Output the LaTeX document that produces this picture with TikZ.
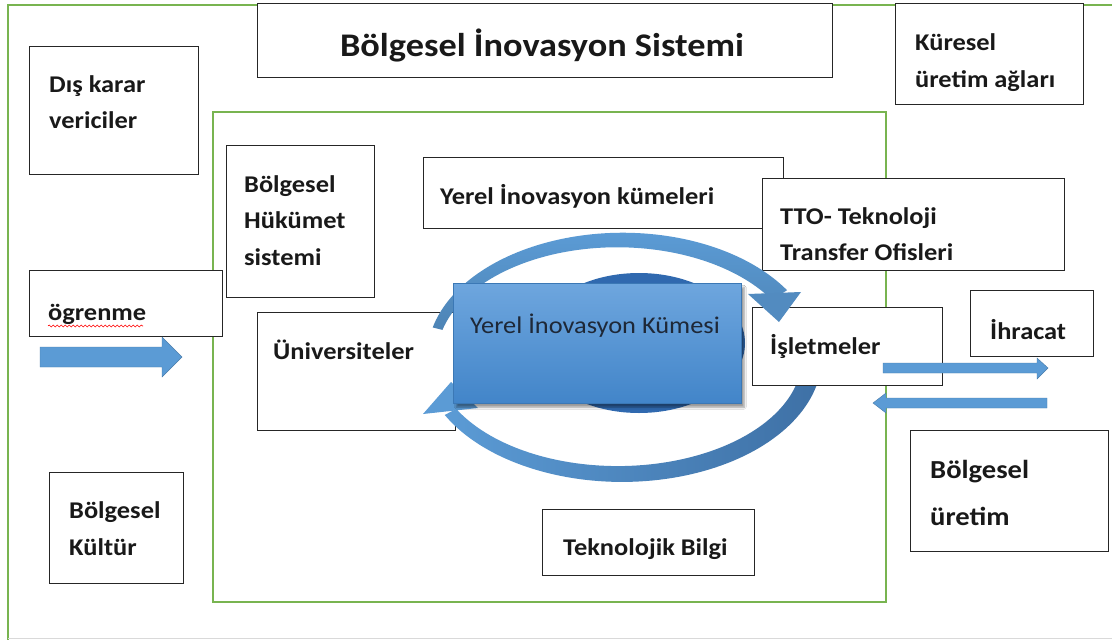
\documentclass[tikz,border=0pt]{standalone}
\usepackage{fontspec}
\setmainfont{Carlito}[FakeStretch=1.1]
\usetikzlibrary{shadows,shadows.blur,shadings,decorations.pathmorphing}
\definecolor{grn}{RGB}{120,180,80}
\definecolor{abl}{RGB}{91,155,213}
\definecolor{abd}{RGB}{62,112,165}
\definecolor{boxtop}{RGB}{110,166,222}
\definecolor{boxbot}{RGB}{66,133,201}
\definecolor{ellc}{RGB}{48,105,175}
\definecolor{txt}{RGB}{25,25,25}
\begin{document}
\begin{tikzpicture}[x=1pt,y=-1pt,
  bx/.style={draw=black!85, line width=1.3pt, fill=white, inner sep=0pt, anchor=north west},
  tx/.style={anchor=base west, inner sep=0pt, text=txt, font=\bfseries\fontsize{24}{28}\selectfont},
  txbig/.style={tx, font=\bfseries\fontsize{26}{30}\selectfont},
  blockarrow/.style={fill=abl, draw=abl!80!black, line width=0.4pt}]
\useasboundingbox (0,0) rectangle (1112,640);
\fill[white] (0,0) rectangle (1112,640);
% outer frame
\draw[grn, line width=1.3pt] (8,640) -- (8,5) -- (1112,5);
\draw[black!15, line width=0.8pt] (8,638) -- (1112,638);
% inner frame
\draw[grn, line width=1.3pt] (213,112) rectangle (886,602);
% boxes
\node[bx, minimum width=575, minimum height=74] (title) at (257,3) {};
\node[bx, minimum width=169, minimum height=128] (dis) at (29,46) {};
\node[bx, minimum width=188, minimum height=101] (kur) at (895,3) {};
\node[bx, minimum width=148, minimum height=152] (huk) at (226,145) {};
\node[bx, minimum width=360, minimum height=71] (ykum) at (423,157) {};
\node[bx, minimum width=302, minimum height=92] (tto) at (762,178) {};
\node[bx, minimum width=193, minimum height=66] (ogr) at (29,270) {};
\node[bx, minimum width=198, minimum height=118] (uni) at (257,312) {};
\node[bx, minimum width=123, minimum height=66] (ihr) at (970,290) {};
\node[bx, minimum width=198, minimum height=121] (bur) at (910,430) {};
\node[bx, minimum width=134, minimum height=111] (kul) at (49,472) {};
\node[bx, minimum width=212, minimum height=66] (tek) at (542,509) {};
% inner ellipse
\fill[ellc] (639,343) ellipse [x radius=106, y radius=70];
% lower circular arrow
\shade[left color=abl, right color=abd]
  plot[domain=0:-152, samples=80] ({620+(192+10-3.5*(0-\x)/152)*cos(\x)},{357-(117+10-3.5*(0-\x)/152)*sin(\x)})
  -- plot[domain=-152:0, samples=80] ({620+(192-10+3.5*(0-\x)/152)*cos(\x)},{357-(117-10+3.5*(0-\x)/152)*sin(\x)})
  -- cycle;
\fill[abl] (423,414) -- (451,382) -- (478,408) -- cycle;
% business box over the lower arrow start
\node[bx, minimum width=190, minimum height=78] (isl) at (752,307) {};
% upper circular arrow
\shade[top color=abl, bottom color=abl!85!black]
  plot[domain=166:32, samples=80] ({620+(188+5+4*(166-\x)/134)*cos(\x)},{357-(117+5+4*(166-\x)/134)*sin(\x)})
  -- plot[domain=32:166, samples=80] ({620+(188-5-4*(166-\x)/134)*cos(\x)},{357-(117-5-4*(166-\x)/134)*sin(\x)})
  -- cycle;
\fill[abl!90!black] (748,294) -- (801,292) -- (779,322) -- cycle;
% central blue box
\node[anchor=north west, minimum width=288, minimum height=120, inner sep=0pt,
  top color=boxtop, bottom color=boxbot, draw=boxbot!90!black, line width=0.4pt,
  blur shadow={shadow xshift=3pt, shadow yshift=-4pt, shadow blur steps=8}] (core) at (453,283) {};
\node[anchor=base, inner sep=0pt, text={rgb,255:red,30;green,40;blue,55}, font=\fontsize{24}{28}\selectfont] (coreT) at (595,333) {Yerel İnovasyon Kümesi};
% block arrows
\fill[blockarrow] (40,347) -- (162,347) -- (162,337) -- (182,357) -- (162,377) -- (162,367) -- (40,367) -- cycle;
\fill[blockarrow] (883,363) -- (1037,363) -- (1037,358) -- (1048,368) -- (1037,379) -- (1037,373) -- (883,373) -- cycle;
\fill[blockarrow] (1047,398) -- (886,398) -- (886,393) -- (873,403) -- (886,413) -- (886,408) -- (1047,408) -- cycle;
% texts
\node[anchor=base, inner sep=0pt, text=txt, font=\bfseries\fontsize{33}{38}\selectfont] (titleT) at (542,56) {Bölgesel İnovasyon Sistemi};
\node[tx] (dis1) at (49,92) {Dış karar};
\node[tx] (dis2) at (49,128) {vericiler};
\node[tx] (kur1) at (915,50) {Küresel};
\node[tx] (kur2) at (915,87) {üretim ağları};
\node[tx] (huk1) at (244,192) {Bölgesel};
\node[tx] (huk2) at (244,228) {Hükümet};
\node[tx] (huk3) at (244,265) {sistemi};
\node[tx] (ykumT) at (440,204) {Yerel İnovasyon kümeleri};
\node[tx] (tto1) at (780,224) {TTO- Teknoloji};
\node[tx] (tto2) at (780,260) {Transfer Ofisleri};
\node[tx] (ogrT) at (48,320) {ögrenme};
\draw[red, line width=0.6pt, decorate, decoration={snake, amplitude=1pt, segment length=4pt}] (48,326) -- (143,326);
\node[tx] (uniT) at (273,359) {Üniversiteler};
\node[tx] (islT) at (770,354) {İşletmeler};
\node[tx] (ihrT) at (990,339) {İhracat};
\node[txbig] (bur1) at (930,478) {Bölgesel};
\node[txbig] (bur2) at (930,525) {üretim};
\node[tx] (kul1) at (69,518) {Bölgesel};
\node[tx] (kul2) at (69,555) {Kültür};
\node[tx] (tekT) at (563,555) {Teknolojik Bilgi};
\end{tikzpicture}
\end{document}
